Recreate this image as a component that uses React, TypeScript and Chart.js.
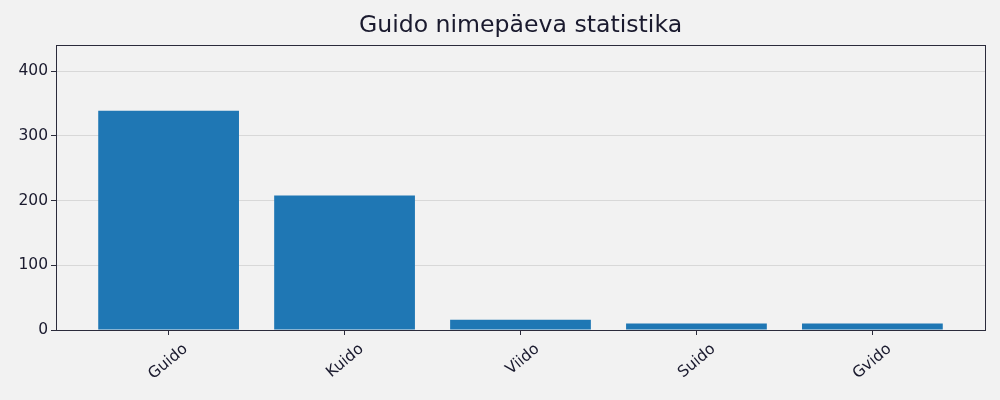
import { useEffect, useRef } from "react";
import { Chart, registerables } from "chart.js";

Chart.register(...registerables);

const categories = ["Guido", "Kuido", "Viido", "Suido", "Gvido"];
const counts = [339, 208, 16, 10, 10];
const yTicks = [0, 100, 200, 300, 400];

const backdrop = {
  id: "backdrop",
  beforeDraw(chart: Chart) {
    const { ctx } = chart;
    ctx.save();
    ctx.fillStyle = "#f2f2f2";
    ctx.fillRect(0, 0, chart.width, chart.height);
    ctx.restore();
  },
  afterDraw(chart: Chart) {
    const { ctx, chartArea } = chart;
    ctx.save();
    ctx.strokeStyle = "#2b2b3b";
    ctx.lineWidth = 1;
    ctx.strokeRect(
      Math.round(chartArea.left) + 0.5,
      Math.round(chartArea.top) + 0.5,
      Math.round(chartArea.right - chartArea.left),
      Math.round(chartArea.bottom - chartArea.top)
    );
    ctx.restore();
  },
};

export default function App() {
  const canvasRef = useRef<HTMLCanvasElement>(null);

  useEffect(() => {
    document.body.style.margin = "0";
    const ctx = canvasRef.current?.getContext("2d");
    if (!ctx) return;

    const chart = new Chart(ctx, {
      type: "bar",
      data: {
        datasets: [
          {
            data: counts.map((v, i) => ({ x: i, y: v })),
            backgroundColor: "#1f77b4",
            borderWidth: 0,
            barPercentage: 0.8,
            categoryPercentage: 1,
          },
        ],
      },
      options: {
        responsive: false,
        animation: false,
        layout: { padding: { left: 0, right: 15, top: 0, bottom: 0 } },
        plugins: {
          legend: { display: false },
          tooltip: { enabled: false },
          title: {
            display: true,
            text: "Guido nimepäeva statistika",
            fullSize: false,
            color: "#1a1a2e",
            font: { family: "DejaVu Sans", size: 23.6, weight: "normal" },
            padding: { top: 12, bottom: 5 },
          },
        },
        scales: {
          x: {
            type: "linear",
            offset: false,
            min: -0.64,
            max: 4.64,
            afterBuildTicks: (scale: any) => {
              scale.ticks = categories.map((_, i) => ({ value: i }));
            },
            afterFit: (scale: any) => {
              scale.height = 70;
            },
            grid: {
              offset: false,
              drawOnChartArea: false,
              drawTicks: true,
              tickLength: 5,
              tickColor: "#2b2b3b",
            },
            border: { color: "#2b2b3b" },
            ticks: {
              minRotation: 40,
              maxRotation: 40,
              autoSkip: false,
              labelOffset: 17,
              padding: 5,
              color: "#1a1a2e",
              font: { family: "DejaVu Sans", size: 15.5 },
              callback: (v: any) => categories[Math.round(Number(v))] ?? "",
            },
          },
          y: {
            min: 0,
            max: 440,
            afterBuildTicks: (scale: any) => {
              scale.ticks = yTicks.map((value) => ({ value }));
            },
            afterFit: (scale: any) => {
              scale.width = 56;
            },
            grid: {
              color: "#d8d8d8",
              tickLength: 5,
              tickColor: "#2b2b3b",
            },
            border: { color: "#2b2b3b" },
            ticks: {
              padding: 3,
              color: "#1a1a2e",
              font: { family: "DejaVu Sans", size: 15.5 },
            },
          },
        },
      },
      plugins: [backdrop],
    });

    return () => chart.destroy();
  }, []);

  return (
    <div style={{ width: 1000, height: 400 }}>
      <canvas ref={canvasRef} width={1000} height={400} />
    </div>
  );
}
